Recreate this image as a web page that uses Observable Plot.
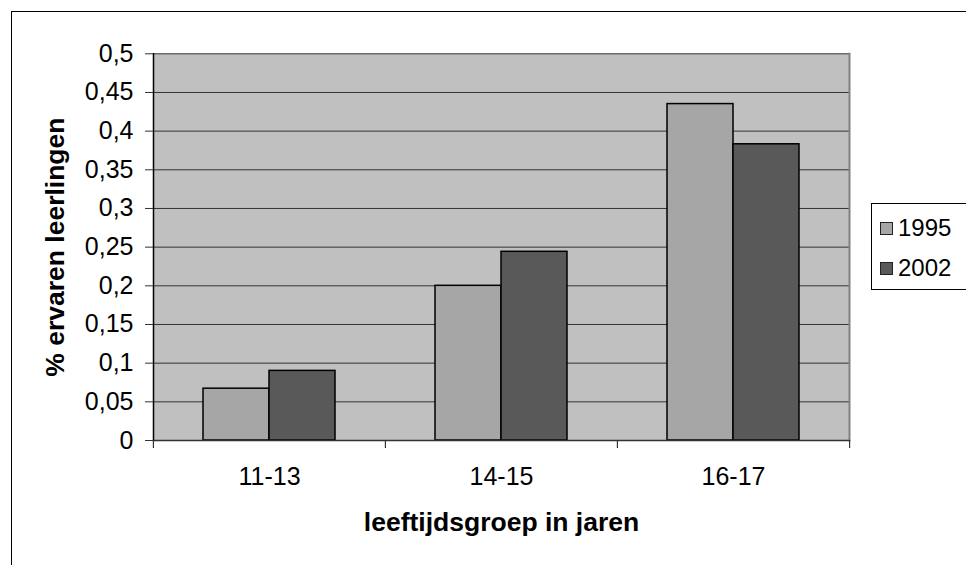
<!DOCTYPE html>
<html>
<head>
<meta charset="utf-8">
<script src="https://cdn.jsdelivr.net/npm/d3@7"></script>
<script src="https://cdn.jsdelivr.net/npm/@observablehq/plot@0.6"></script>
<style>
  html, body { margin: 0; padding: 0; background: #fff; }
  #chart {
    position: relative; width: 966px; height: 565px; overflow: hidden;
    font-family: "Liberation Sans", Arial, sans-serif; color: #000;
  }
  #outline {
    position: absolute; left: 11px; top: 11px; width: 1000px; height: 600px;
    border: 1px solid #000; box-sizing: border-box;
  }
  #chart svg { position: absolute; left: 0; top: 0; }
  g[aria-label="y-axis label"] text,
  g[aria-label="fx-axis label"] text { font-weight: bold; font-size: 26.5px; }
  .legend {
    position: absolute; left: 871px; top: 203px; width: 130px; height: 87px;
    border: 1px solid #000; background: #fff; box-sizing: border-box;
  }
  .legend .item {
    position: absolute; left: 8px; height: 40px; display: flex; align-items: center;
    font-size: 24px; line-height: 1;
  }
  .legend .swatch {
    width: 11px; height: 11px; border: 1px solid #222; margin-right: 5px;
  }
</style>
</head>
<body>
<div id="chart"><div id="outline"></div></div>
<script>
// Share of experienced pupils per age group, survey years 1995 and 2002
const groups = ["11-13", "14-15", "16-17"];
const years = ["1995", "2002"];
const values1995 = [0.067, 0.2, 0.435];
const values2002 = [0.09, 0.244, 0.383];
const yTicks = [0, 0.05, 0.1, 0.15, 0.2, 0.25, 0.3, 0.35, 0.4, 0.45, 0.5];
const seriesColors = ["#A6A6A6", "#595959"];

const rows = groups.flatMap((g, i) => [
  {group: g, year: years[0], value: values1995[i]},
  {group: g, year: years[1], value: values2002[i]}
]);

const W = 966, H = 565;
const mL = 153, mR = 116.5, mT = 53.3, mB = 125;
const step = (W - mL - mR) / groups.length; // width of one category band
const comma = d => String(d).replace(".", ",");

const chart = Plot.plot({
  width: W,
  height: H,
  marginLeft: mL,
  marginRight: mR,
  marginTop: mT,
  marginBottom: mB,
  style: {fontFamily: "Liberation Sans, Arial, sans-serif", background: "transparent", overflow: "visible", color: "#000"},
  fx: {domain: groups, padding: 0, axis: null},
  x: {domain: years, paddingInner: 0, paddingOuter: 0.75, axis: null},
  y: {domain: [0, 0.5]},
  color: {domain: years, range: seriesColors},
  marks: [
    // grey plot area drawn once across all panels, then the horizontal grid
    Plot.frame({fill: "#C0C0C0", facet: "super"}),
    Plot.gridY(yTicks, {stroke: "#333", strokeOpacity: 1, strokeWidth: 1}),
    Plot.frame({anchor: "right", stroke: "#808080", strokeWidth: 2, facet: "super"}),
    // clustered bars
    Plot.barY(rows, {fx: "group", x: "year", y: "value", fill: "year", stroke: "#000", strokeWidth: 1.5}),
    // axis lines
    Plot.ruleY([0], {stroke: "#333", strokeWidth: 1.5}),
    Plot.frame({anchor: "left", stroke: "#000", strokeWidth: 1.5, facet: "super"}),
    // tick marks on the category boundaries (shifted half a band from the centres)
    Plot.axisFx({anchor: "bottom", tickSize: 8, tickFormat: () => "", stroke: "#333", strokeWidth: 1.2, dx: -step / 2, label: null}),
    Plot.axisFx({anchor: "bottom", ticks: [groups[groups.length - 1]], tickSize: 8, tickFormat: () => "", stroke: "#333", strokeWidth: 1.2, dx: step / 2, label: null}),
    Plot.axisY({
      ticks: yTicks, tickFormat: comma, tickSize: 8, tickPadding: 12,
      stroke: "#333", fontSize: 25,
      label: "% ervaren leerlingen", labelAnchor: "center", labelOffset: 108, labelArrow: "none"
    }),
    Plot.axisFx({
      anchor: "bottom", tickSize: 0, tickPadding: 27, fontSize: 25,
      label: "leeftijdsgroep in jaren", labelAnchor: "center", labelOffset: 90, labelArrow: "none"
    })
  ]
});

const root = d3.select("#chart");
root.node().appendChild(chart);

// legend
const legend = root.append("div").attr("class", "legend");
years.forEach((y, i) => {
  const item = legend.append("div").attr("class", "item").style("top", `${4 + i * 40}px`);
  item.append("div").attr("class", "swatch").style("background", seriesColors[i]);
  item.append("span").text(y);
});
</script>
</body>
</html>
